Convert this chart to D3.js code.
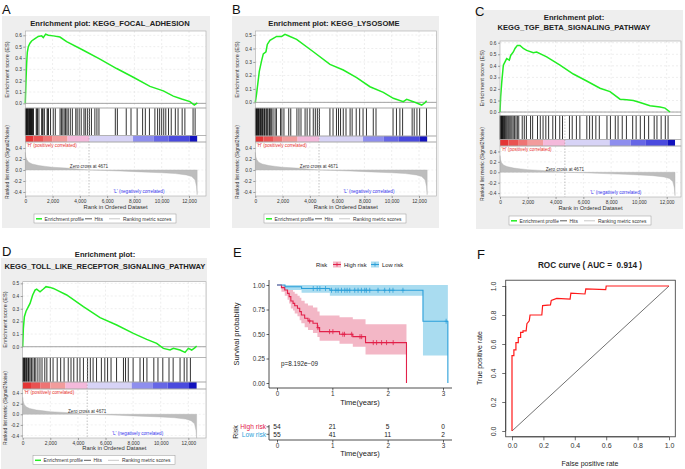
<!DOCTYPE html>
<html><head><meta charset="utf-8">
<script src="https://cdn.jsdelivr.net/npm/d3@7/dist/d3.min.js"></script>
<style>body{margin:0;background:#fff}svg{display:block}</style>
</head><body>
<script>
// ---------------- DATA ----------------
const rankTicks = [0, 2000, 4000, 6000, 8000, 10000, 12000];
const rankTotal = 12600;
const zeroCross = 4671;
const metricRanks  = [0, 30, 100, 250, 500, 1000, 1500, 2000, 3000, 4000, 4671, 6000, 7000, 8000, 9000, 10000, 11000, 11800, 12200, 12450, 12550, 12600];
const metricValues = [0.32, 0.25, 0.19, 0.14, 0.11, 0.08, 0.065, 0.05, 0.035, 0.015, 0, -0.01, -0.02, -0.03, -0.04, -0.05, -0.065, -0.09, -0.12, -0.18, -0.3, -0.45];
const colorBarStarts = [0, 600, 1300, 2000, 3100, 4700, 7900, 9400, 10500, 12050];
const colorBarColors = ["#E43434", "#E95252", "#EE7474", "#F29C9C", "#F4B9DB", "#D7D3F6", "#8E8EEE", "#6666E6", "#4A4ADE", "#1212BE"];

const esRanksA  = [0, 49, 98, 147, 220, 342, 464, 709, 953, 1198, 1320, 1491, 1686, 2053, 2542, 3031, 4253, 5475, 6697, 7919, 9141, 10118, 10852, 11463, 12074, 12391, 12611];
const esValuesA = [0, 0.2, 0.35, 0.45, 0.5, 0.53, 0.55, 0.57, 0.59, 0.595, 0.58, 0.61, 0.6, 0.595, 0.585, 0.545, 0.468, 0.39, 0.307, 0.23, 0.15, 0.11, 0.064, 0.038, 0.015, -0.015, 0.005];
const hitsA = [10, 35, 60, 85, 110, 150, 180, 210, 260, 290, 320, 350, 380, 420, 450, 480, 520, 560, 600, 800, 850, 900, 1000, 1200, 1250, 1300, 1400, 1600, 1650, 1700, 1850, 2050, 2200, 2550, 2650, 2750, 2850, 2950, 3050, 3150, 3300, 3450, 3700, 3800, 3950, 4100, 4300, 4400, 4550, 4700, 4850, 5100, 5250, 5400, 6600, 6750, 7400, 7750, 8200, 8600, 8800, 9100, 9500, 9700, 9850, 10000, 10150, 10300, 10500, 10700, 11000, 11200, 11500, 11700, 12300, 12450];

const esRanksB  = [0, 98, 293, 464, 587, 782, 880, 1075, 1320, 1564, 1931, 2175, 2420, 3030, 4253, 5475, 6452, 7430, 8407, 9385, 10118, 10851, 11100, 11585, 12196, 12440, 12562];
const esValuesB = [0, 0.067, 0.23, 0.31, 0.36, 0.376, 0.43, 0.46, 0.475, 0.49, 0.49, 0.505, 0.495, 0.468, 0.376, 0.282, 0.24, 0.183, 0.116, 0.074, 0.03, 0.005, 0.022, 0.005, -0.02, -0.003, 0.012];
const hitsB = [10, 50, 80, 100, 150, 190, 220, 250, 280, 350, 390, 420, 480, 520, 560, 640, 680, 720, 820, 900, 1000, 1050, 1100, 1200, 1300, 1450, 1550, 1850, 1950, 2100, 2450, 2600, 3050, 3200, 3350, 3650, 3800, 4000, 4250, 4400, 4550, 4700, 5470, 5700, 5950, 6100, 6250, 6450, 6650, 6950, 7100, 7400, 7650, 7900, 8150, 8650, 8850, 10100, 10350, 10600, 10800, 11500, 11650, 11850, 12050, 12550];

const esRanksC  = [0, 48, 120, 240, 360, 480, 672, 768, 960, 1080, 1248, 1440, 1680, 1920, 2400, 2640, 3360, 4320, 5280, 6240, 7200, 7920, 8640, 9120, 9600, 10080, 10800, 11520, 11880, 12240];
const esValuesC = [0, 0.134, 0.25, 0.405, 0.434, 0.463, 0.449, 0.49, 0.52, 0.55, 0.577, 0.577, 0.55, 0.534, 0.514, 0.52, 0.477, 0.406, 0.329, 0.269, 0.206, 0.177, 0.111, 0.106, 0.1, 0.083, 0.054, 0.043, 0.034, 0];
const hitsC = [10, 40, 80, 110, 130, 180, 210, 240, 300, 340, 380, 450, 520, 600, 700, 780, 860, 950, 1050, 1150, 1250, 1350, 1600, 1750, 1900, 2200, 2350, 2700, 2900, 3100, 3300, 3500, 3800, 4000, 4300, 4500, 5000, 5200, 5500, 5750, 6250, 6450, 6650, 6900, 7150, 7700, 7950, 8300, 8500, 8800, 9100, 9550, 9800, 10100, 10400, 10700, 11100, 11300, 11600, 11900, 12100];

const esRanksD  = [0, 48, 121, 242, 411, 532, 725, 894, 1014, 1256, 1497, 1690, 1980, 2222, 2584, 3188, 4395, 5603, 6810, 8018, 8984, 9708, 10191, 10674, 10916, 11399, 11760, 12001, 12243, 12484, 12600];
const esValuesD = [0, 0.145, 0.237, 0.28, 0.316, 0.342, 0.408, 0.447, 0.455, 0.434, 0.455, 0.474, 0.468, 0.46, 0.44, 0.408, 0.316, 0.229, 0.171, 0.105, 0.058, 0.026, -0.013, -0.026, -0.013, -0.026, -0.045, -0.013, -0.026, -0.008, 0.005];
const hitsD = [10, 50, 100, 130, 160, 230, 260, 300, 380, 420, 460, 540, 640, 740, 850, 950, 1100, 1250, 1400, 1600, 1750, 2000, 2200, 2500, 2750, 3000, 3300, 3500, 3700, 3950, 4150, 4400, 4700, 4900, 5100, 5350, 5700, 5950, 6150, 6400, 6800, 7300, 7450, 7650, 8000, 8500, 8750, 9000, 9500, 9800, 10150, 10600, 10900, 11400, 11700, 11900, 12150];

// Kaplan-Meier (panel E)
const kmHighTimes = [0, 0.08, 0.14, 0.19, 0.22, 0.25, 0.29, 0.32, 0.37, 0.41, 0.44, 0.5, 0.56, 0.65, 0.73, 0.77, 1.13, 1.37, 1.6, 2.34];
const kmHighSurv  = [1.0, 0.973, 0.949, 0.915, 0.881, 0.837, 0.813, 0.789, 0.762, 0.728, 0.694, 0.66, 0.633, 0.609, 0.565, 0.524, 0.497, 0.473, 0.412, 0];
const kmHighUpper = [1, 1, 1, 0.99, 0.97, 0.95, 0.93, 0.91, 0.89, 0.87, 0.84, 0.81, 0.79, 0.77, 0.73, 0.69, 0.67, 0.65, 0.60, 0.60];
const kmHighLower = [1, 0.93, 0.89, 0.85, 0.81, 0.76, 0.74, 0.71, 0.68, 0.64, 0.61, 0.57, 0.54, 0.51, 0.47, 0.43, 0.40, 0.37, 0.29, 0.29];
const kmHighCensor = [0.59, 0.74, 0.95, 1.01, 1.19, 1.22, 1.35, 1.5, 1.53, 1.74, 1.8, 1.89, 1.98, 2.1];
const kmLowTimes = [0, 0.144, 0.444, 0.955, 2.638, 3.088];
const kmLowSurv  = [1.0, 0.982, 0.964, 0.946, 0.63, 0];
const kmLowUpper = [1, 1, 1, 1, 1, 1];
const kmLowLower = [1, 0.95, 0.92, 0.89, 0.28, 0.28];
const kmLowCensor = [0.655, 0.727, 0.775, 0.877, 0.985, 1.063, 1.105, 1.165, 1.225, 1.267, 1.315, 1.405, 1.465, 1.525, 1.586, 1.616, 1.676, 1.826, 1.946, 2.036, 2.096, 2.276, 3.057];
const kmTicksY = [0, 0.25, 0.5, 0.75, 1.0];
const riskTimes = [0, 1, 2, 3];
const riskHigh = [54, 21, 5, 0];
const riskLow  = [55, 41, 11, 2];
const pValueText = "p=8.192e\u221209";

// ROC (panel F)
const rocFPR = [0, 0, 0.012, 0.012, 0.025, 0.025, 0.04, 0.04, 0.055, 0.055, 0.07, 0.07, 0.09, 0.095, 0.11, 0.115, 0.13, 0.19, 0.195, 0.245, 0.25, 0.285, 0.37, 0.375, 0.465, 0.47, 0.597, 0.6, 1];
const rocTPR = [0, 0.52, 0.52, 0.56, 0.56, 0.61, 0.61, 0.645, 0.645, 0.68, 0.68, 0.69, 0.69, 0.74, 0.76, 0.80, 0.80, 0.80, 0.865, 0.87, 0.90, 0.915, 0.91, 0.95, 0.945, 0.98, 0.975, 1.0, 1.0];
const rocTicks = [0, 0.2, 0.4, 0.6, 0.8, 1.0];
const rocAUC = 0.914;

// ---------------- DRAW ----------------
const W = 685, H = 469;
const FONT = "'Liberation Sans', Arial, sans-serif";
const svg = d3.select("body").append("svg").attr("width", W).attr("height", H)
  .attr("font-family", FONT);
svg.append("rect").attr("width", W).attr("height", H).attr("fill", "#fff");

function panelLabel(t, x, y) {
  svg.append("text").attr("x", x).attr("y", y).attr("font-size", 13).attr("fill", "#111").text(t);
}

function styleAxis(a, fs) {
  a.select(".domain").remove();
  a.selectAll(".tick line").attr("stroke", "#666").attr("stroke-width", 0.6);
  a.selectAll(".tick text").attr("font-size", fs).attr("fill", "#333").attr("font-family", FONT);
}

function drawGsea(c) {
  const g = svg.append("g");
  g.append("rect").attr("x", c.bg[0]).attr("y", c.bg[1]).attr("width", c.bg[2]).attr("height", c.bg[3]).attr("fill", "#EEEEEE");
  c.title.forEach((t, i) => g.append("text").attr("x", c.cx).attr("y", c.titleY[i])
    .attr("text-anchor", "middle").attr("font-size", 7.6).attr("font-weight", "bold").attr("fill", "#222").text(t));
  const x = d3.scaleLinear().domain([0, c.xMax]).range([c.left, c.right]);
  const yE = d3.scaleLinear().domain(c.esDom).range([c.esBot, c.esTop]);
  const yR = d3.scaleLinear().domain(c.rkDom).range([c.rkBot, c.barBot]);
  const pw = c.right - c.left;
  [[c.esTop, c.esBot], [c.esBot, c.rkBot]].forEach(([a, b]) =>
    g.append("rect").attr("x", c.left).attr("y", a).attr("width", pw).attr("height", b - a).attr("fill", "#fff"));
  rankTicks.filter(d => d > 0).forEach(d => {
    [[c.esTop, c.esBot], [c.barBot, c.rkBot]].forEach(([a, b]) =>
      g.append("line").attr("x1", x(d)).attr("x2", x(d)).attr("y1", a).attr("y2", b)
        .attr("stroke", "#DDDDDD").attr("stroke-width", 0.5).attr("stroke-dasharray", "2,2"));
  });
  c.esTicks.forEach(v => g.append("line").attr("x1", c.left).attr("x2", c.right).attr("y1", yE(v)).attr("y2", yE(v))
    .attr("stroke", "#DDDDDD").attr("stroke-width", 0.5).attr("stroke-dasharray", "2,2"));
  c.rkTicks.forEach(v => g.append("line").attr("x1", c.left).attr("x2", c.right).attr("y1", yR(v)).attr("y2", yR(v))
    .attr("stroke", "#E4E4E4").attr("stroke-width", 0.5).attr("stroke-dasharray", "2,2"));
  g.append("line").attr("x1", c.left).attr("x2", c.right).attr("y1", yE(0)).attr("y2", yE(0))
    .attr("stroke", "#9A9A9A").attr("stroke-width", 0.9);
  g.append("path").datum(d3.zip(c.esR, c.esV))
    .attr("d", d3.line().x(d => x(d[0])).y(d => yE(d[1])))
    .attr("fill", "none").attr("stroke", "#22EE22").attr("stroke-width", 1.5);
  g.selectAll(null).data(c.hits).join("line")
    .attr("x1", d => x(d)).attr("x2", d => x(d)).attr("y1", c.esBot).attr("y2", c.hitBot)
    .attr("stroke", "#111").attr("stroke-width", 1).attr("stroke-opacity", 0.85);
  colorBarStarts.forEach((s, i) => {
    const e = i < colorBarStarts.length - 1 ? colorBarStarts[i + 1] : rankTotal;
    g.append("rect").attr("x", x(s)).attr("y", c.hitBot).attr("width", x(e) - x(s)).attr("height", c.barBot - c.hitBot)
      .attr("fill", colorBarColors[i]);
  });
  g.append("path").datum(d3.zip(metricRanks, metricValues))
    .attr("d", d3.area().x(d => x(d[0])).y0(yR(0)).y1(d => yR(d[1])))
    .attr("fill", "#BDBDBD").attr("stroke", "#B0B0B0").attr("stroke-width", 0.4);
  g.append("line").attr("x1", x(zeroCross)).attr("x2", x(zeroCross)).attr("y1", c.esBot).attr("y2", c.rkBot)
    .attr("stroke", "#9A9A9A").attr("stroke-width", 0.6).attr("stroke-dasharray", "1.5,1.5");
  g.append("text").attr("x", c.left + 1.5).attr("y", c.barBot + 4.5).attr("font-size", 4.6).attr("fill", "#E8302A")
    .text("'H' (positively correlated)");
  g.append("text").attr("x", x(zeroCross)).attr("y", yR(0) - 1.5).attr("text-anchor", "middle").attr("font-size", 4.6)
    .attr("fill", "#333").text("Zero cross at " + zeroCross);
  g.append("text").attr("x", x(8330)).attr("y", c.rkBot - 3).attr("text-anchor", "middle").attr("font-size", 4.6)
    .attr("fill", "#3535EE").text("'L' (negatively correlated)");
  [[c.esTop, c.esBot], [c.esBot, c.hitBot], [c.hitBot, c.barBot], [c.barBot, c.rkBot]].forEach(([a, b]) =>
    g.append("rect").attr("x", c.left).attr("y", a).attr("width", pw).attr("height", b - a)
      .attr("fill", "none").attr("stroke", "#A8A8A8").attr("stroke-width", 0.6));
  styleAxis(g.append("g").attr("transform", `translate(${c.left},0)`)
    .call(d3.axisLeft(yE).tickValues(c.esTicks).tickSize(2).tickPadding(1.5).tickFormat(d => d.toFixed(1))), 4.8);
  styleAxis(g.append("g").attr("transform", `translate(${c.left},0)`)
    .call(d3.axisLeft(yR).tickValues(c.rkTicks).tickSize(2).tickPadding(1.5).tickFormat(d => d.toFixed(1))), 4.8);
  styleAxis(g.append("g").attr("transform", `translate(0,${c.rkBot})`)
    .call(d3.axisBottom(x).tickValues(rankTicks).tickSize(2).tickPadding(1.5).tickFormat(d3.format(","))), 4.8);
  g.append("text").attr("transform", `translate(${c.ylabX},${(c.esTop + c.esBot) / 2}) rotate(-90)`)
    .attr("text-anchor", "middle").attr("font-size", 5.6).attr("fill", "#333").text("Enrichment score (ES)");
  g.append("text").attr("transform", `translate(${c.ylabX},${c.rkLabY}) rotate(-90)`)
    .attr("text-anchor", "middle").attr("font-size", 5).attr("fill", "#333").text("Ranked list metric (Signal2Noise)");
  g.append("text").attr("x", (c.left + c.right) / 2).attr("y", c.xlabY).attr("text-anchor", "middle")
    .attr("font-size", 5.8).attr("fill", "#333").text("Rank in Ordered Dataset");
  const lx = c.leg[0], ly = c.leg[1];
  g.append("rect").attr("x", lx).attr("y", ly).attr("width", 142).attr("height", 9)
    .attr("fill", "#fff").attr("stroke", "#999").attr("stroke-width", 0.5);
  const items = [["#22EE22", 1.5, 2, 8, "Enrichment profile", 10.5], ["#333", 0.8, 51, 58, "Hits", 60.5], ["#C8C8C8", 1, 75, 86, "Ranking metric scores", 89]];
  items.forEach(it => {
    g.append("line").attr("x1", lx + it[2]).attr("x2", lx + it[3]).attr("y1", ly + 4.8).attr("y2", ly + 4.8)
      .attr("stroke", it[0]).attr("stroke-width", it[1]);
    g.append("text").attr("x", lx + it[5]).attr("y", ly + 6.5).attr("font-size", 4.9).attr("fill", "#333").text(it[4]);
  });
}

const esTicks6 = [0, 0.1, 0.2, 0.3, 0.4, 0.5, 0.6];
const esTicks5 = [0, 0.1, 0.2, 0.3, 0.4, 0.5];
const rkTicks = [0.4, 0.2, 0, -0.2, -0.4];

drawGsea({ bg: [2, 16, 208, 212], title: ["Enrichment plot: KEGG_FOCAL_ADHESION"], titleY: [25.5], cx: 110,
  left: 25.3, right: 206, xMax: 13248, esTop: 31, esBot: 108, esDom: [-0.041, 0.638], esTicks: esTicks6,
  hitBot: 135.5, barBot: 142, rkBot: 196, rkDom: [-0.473, 0.509], rkTicks,
  esR: esRanksA, esV: esValuesA, hits: hitsA, ylabX: 9, rkLabY: 162, xlabY: 209, leg: [34, 214] });

drawGsea({ bg: [232, 16, 207, 212], title: ["Enrichment plot: KEGG_LYSOSOME"], titleY: [25.5], cx: 334,
  left: 255.3, right: 436.5, xMax: 13285, esTop: 31, esBot: 108, esDom: [-0.042, 0.53], esTicks: esTicks5,
  hitBot: 136, barBot: 142, rkBot: 196, rkDom: [-0.473, 0.509], rkTicks,
  esR: esRanksB, esV: esValuesB, hits: hitsB, ylabX: 239, rkLabY: 162, xlabY: 209, leg: [264, 214] });

drawGsea({ bg: [476, 10, 207, 219], title: ["Enrichment plot:", "KEGG_TGF_BETA_SIGNALING_PATHWAY"], titleY: [19.5, 30], cx: 574,
  left: 500, right: 681, xMax: 13030, esTop: 41, esBot: 115.5, esDom: [-0.03, 0.615], esTicks: esTicks6,
  hitBot: 139.5, barBot: 146, rkBot: 197, rkDom: [-0.475, 0.505], rkTicks,
  esR: esRanksC, esV: esValuesC, hits: hitsC, ylabX: 484, rkLabY: 164, xlabY: 210, leg: [509, 216] });

drawGsea({ bg: [1, 258, 206, 211], title: ["Enrichment plot:", "KEGG_TOLL_LIKE_RECEPTOR_SIGNALING_PATHWAY"], titleY: [257, 268.5], cx: 105,
  left: 22.7, right: 206, xMax: 13280, esTop: 281.7, esBot: 357.5, esDom: [-0.085, 0.513], esTicks: esTicks5,
  hitBot: 382, barBot: 389, rkBot: 438, rkDom: [-0.447, 0.477], rkTicks,
  esR: esRanksD, esV: esValuesD, hits: hitsD, ylabX: 7, rkLabY: 408, xlabY: 450, leg: [33, 455.5] });

// ---------------- PANEL E: Kaplan-Meier ----------------
(function () {
  const g = svg.append("g");
  const red = "#E2214A", blue = "#2B9FD9";
  const x = d3.scaleLinear().domain([0, 3]).range([277, 443]);
  const y = d3.scaleLinear().domain([0, 1]).range([383, 285]);
  const axL = 269, axB = 388, axR = 452;
  const rib = (times, up, lo, col) => g.append("path").datum(d3.range(times.length))
    .attr("d", d3.area().curve(d3.curveStepAfter).x(i => x(times[i])).y0(i => y(lo[i])).y1(i => y(up[i])))
    .attr("fill", col).attr("stroke", "none");
  rib(kmHighTimes, kmHighUpper, kmHighLower, "#F3B7C6");
  rib(kmLowTimes, kmLowUpper, kmLowLower, "#A9DCF0");
  const curve = (times, surv, col) => g.append("path").datum(d3.zip(times, surv))
    .attr("d", d3.line().curve(d3.curveStepAfter).x(d => x(d[0])).y(d => y(d[1])))
    .attr("fill", "none").attr("stroke", col).attr("stroke-width", 1.1);
  curve(kmHighTimes, kmHighSurv, red);
  curve(kmLowTimes, kmLowSurv, blue);
  const stepVal = (times, surv, t) => { let v = surv[0]; times.forEach((tt, i) => { if (tt <= t) v = surv[i]; }); return v; };
  const cens = (ct, times, surv, col) => ct.forEach(t => {
    const cx = x(t), cy = y(stepVal(times, surv, t));
    g.append("line").attr("x1", cx).attr("x2", cx).attr("y1", cy - 2.5).attr("y2", cy + 2.5).attr("stroke", col).attr("stroke-width", 0.8);
    g.append("line").attr("x1", cx - 1.6).attr("x2", cx + 1.6).attr("y1", cy).attr("y2", cy).attr("stroke", col).attr("stroke-width", 0.8);
  });
  cens(kmHighCensor, kmHighTimes, kmHighSurv, red);
  cens(kmLowCensor, kmLowTimes, kmLowSurv, blue);
  g.append("line").attr("x1", axL).attr("x2", axL).attr("y1", 280).attr("y2", axB).attr("stroke", "#222").attr("stroke-width", 0.8);
  g.append("line").attr("x1", axL).attr("x2", axR).attr("y1", axB).attr("y2", axB).attr("stroke", "#222").attr("stroke-width", 0.8);
  const ay = g.append("g").attr("transform", `translate(${axL},0)`)
    .call(d3.axisLeft(y).tickValues(kmTicksY).tickSize(2.5).tickPadding(1.5).tickFormat(d3.format(".2f")));
  ay.select(".domain").remove();
  ay.selectAll(".tick line").attr("stroke", "#222").attr("stroke-width", 0.7);
  ay.selectAll(".tick text").attr("font-size", 6.3).attr("fill", "#333").attr("font-family", FONT);
  const ax = g.append("g").attr("transform", `translate(0,${axB})`)
    .call(d3.axisBottom(x).tickValues(riskTimes).tickSize(2.5).tickPadding(1.2).tickFormat(d3.format("d")));
  ax.select(".domain").remove();
  ax.selectAll(".tick line").attr("stroke", "#222").attr("stroke-width", 0.7);
  ax.selectAll(".tick text").attr("font-size", 6.3).attr("fill", "#333").attr("font-family", FONT);
  g.append("text").attr("x", 360).attr("y", 405).attr("text-anchor", "middle").attr("font-size", 7.5).attr("fill", "#222").text("Time(years)");
  g.append("text").attr("transform", "translate(239,334) rotate(-90)").attr("text-anchor", "middle").attr("font-size", 7.5)
    .attr("fill", "#222").text("Survival probability");
  g.append("text").attr("x", 281).attr("y", 366).attr("font-size", 6.3).attr("fill", "#222").text(pValueText);
  g.append("text").attr("x", 316).attr("y", 267).attr("font-size", 5.8).attr("fill", "#222").text("Risk");
  const key = (kx, col, fill, lab) => {
    g.append("rect").attr("x", kx).attr("y", 261.5).attr("width", 8).attr("height", 6).attr("fill", fill);
    g.append("line").attr("x1", kx).attr("x2", kx + 8).attr("y1", 264.5).attr("y2", 264.5).attr("stroke", col).attr("stroke-width", 1);
    g.append("line").attr("x1", kx + 4).attr("x2", kx + 4).attr("y1", 262.5).attr("y2", 266.5).attr("stroke", col).attr("stroke-width", 0.8);
    g.append("text").attr("x", kx + 11).attr("y", 267).attr("font-size", 5.8).attr("fill", "#222").text(lab);
  };
  key(333, red, "#F3B7C6", "High risk");
  key(371, blue, "#A9DCF0", "Low risk");
  const tB = 440;
  g.append("line").attr("x1", axL).attr("x2", axL).attr("y1", 425).attr("y2", tB).attr("stroke", "#222").attr("stroke-width", 0.8);
  g.append("line").attr("x1", axL).attr("x2", axR).attr("y1", tB).attr("y2", tB).attr("stroke", "#222").attr("stroke-width", 0.8);
  [[429, red, "High risk", riskHigh], [436.5, blue, "Low risk", riskLow]].forEach(([ry, col, lab, vals]) => {
    g.append("line").attr("x1", axL - 2.5).attr("x2", axL).attr("y1", ry - 2.2).attr("y2", ry - 2.2).attr("stroke", "#222").attr("stroke-width", 0.7);
    g.append("text").attr("x", axL - 3).attr("y", ry).attr("text-anchor", "end").attr("font-size", 6.6).attr("fill", col).text(lab);
    vals.forEach((v, i) => g.append("text").attr("x", x(riskTimes[i])).attr("y", ry).attr("text-anchor", "middle")
      .attr("font-size", 6.6).attr("fill", "#222").text(v));
  });
  const at = g.append("g").attr("transform", `translate(0,${tB})`)
    .call(d3.axisBottom(x).tickValues(riskTimes).tickSize(2.5).tickPadding(1).tickFormat(d3.format("d")));
  at.select(".domain").remove();
  at.selectAll(".tick line").attr("stroke", "#222").attr("stroke-width", 0.7);
  at.selectAll(".tick text").attr("font-size", 6.3).attr("fill", "#333").attr("font-family", FONT);
  g.append("text").attr("x", 360).attr("y", 456).attr("text-anchor", "middle").attr("font-size", 7.5).attr("fill", "#222").text("Time(years)");
  g.append("text").attr("transform", "translate(238,432) rotate(-90)").attr("text-anchor", "middle").attr("font-size", 7)
    .attr("fill", "#222").text("Risk");
})();

// ---------------- PANEL F: ROC ----------------
(function () {
  const g = svg.append("g");
  const x = d3.scaleLinear().domain([0, 1]).range([512, 669]);
  const y = d3.scaleLinear().domain([0, 1]).range([431, 286]);
  const bx0 = x(-0.04), bx1 = x(1.04), by0 = y(-0.04), by1 = y(1.04);
  g.append("line").attr("x1", x(0)).attr("y1", y(0)).attr("x2", x(1)).attr("y2", y(1)).attr("stroke", "#333").attr("stroke-width", 0.7);
  g.append("path").datum(d3.zip(rocFPR, rocTPR)).attr("d", d3.line().x(d => x(d[0])).y(d => y(d[1])))
    .attr("fill", "none").attr("stroke", "#FF1A1A").attr("stroke-width", 1.2);
  g.append("rect").attr("x", bx0).attr("y", by1).attr("width", bx1 - bx0).attr("height", by0 - by1)
    .attr("fill", "none").attr("stroke", "#333").attr("stroke-width", 0.8);
  const ax = g.append("g").attr("transform", `translate(0,${by0})`)
    .call(d3.axisBottom(x).tickValues(rocTicks).tickSize(3.5).tickPadding(3).tickFormat(d3.format(".1f")));
  ax.select(".domain").attr("d", `M${x(0)},0H${x(1)}`).attr("stroke", "#333").attr("stroke-width", 0.7);
  ax.selectAll(".tick line").attr("stroke", "#333").attr("stroke-width", 0.7);
  ax.selectAll(".tick text").attr("font-size", 7).attr("fill", "#333").attr("font-family", FONT);
  const ay = g.append("g").attr("transform", `translate(${bx0},0)`)
    .call(d3.axisLeft(y).tickValues(rocTicks).tickSize(3.5).tickPadding(3).tickFormat(d3.format(".1f")));
  ay.select(".domain").attr("d", `M0,${y(0)}V${y(1)}`).attr("stroke", "#333").attr("stroke-width", 0.7);
  ay.selectAll(".tick line").attr("stroke", "#333").attr("stroke-width", 0.7);
  ay.selectAll(".tick text").attr("font-size", 7).attr("fill", "#333").attr("font-family", FONT)
    .attr("text-anchor", "middle").attr("dy", null).attr("x", null)
    .attr("transform", "translate(-10,0) rotate(-90)").attr("y", 0);
  g.append("text").attr("x", 590).attr("y", 268).attr("text-anchor", "middle").attr("font-size", 8.2).attr("font-weight", "bold")
    .attr("fill", "#222").style("white-space", "pre").text("ROC curve ( AUC =  " + rocAUC.toFixed(3) + " )");
  g.append("text").attr("x", 590).attr("y", 466).attr("text-anchor", "middle").attr("font-size", 7).attr("fill", "#222").text("False positive rate");
  g.append("text").attr("transform", "translate(482,358) rotate(-90)").attr("text-anchor", "middle").attr("font-size", 7)
    .attr("fill", "#222").text("True positive rate");
})();

// panel letters on top
panelLabel("A", 2, 14);
panelLabel("B", 232, 14);
panelLabel("C", 475, 16);
panelLabel("D", 2, 256);
panelLabel("E", 233, 257);
panelLabel("F", 477, 259);
</script>
</body></html>
